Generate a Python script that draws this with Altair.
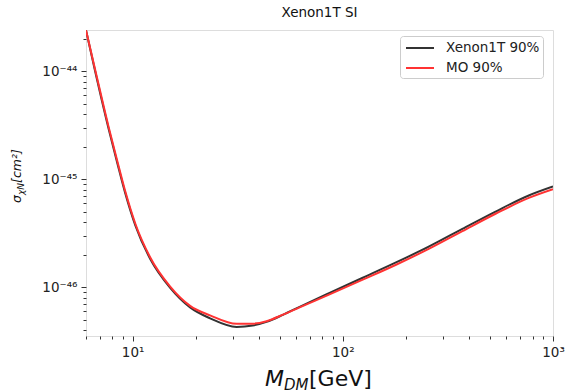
import altair as alt
import pandas as pd

# ---- data ----
mass_gev = [6.0, 6.62, 7.67, 8.44, 9.23, 10.3, 12.13, 15.09, 18.77, 23.35, 31.25, 37.3,
            43.35, 51.9, 62.3, 86.5, 124.4, 179.1, 257.6, 370.5, 533, 767, 1000]
xenon1t_90 = [2.4e-44, 1.015e-44, 2.98e-45, 1.43e-45, 7.38e-46, 3.73e-46, 1.82e-46, 9.84e-47,
              6.48e-47, 5.13e-47, 4.27e-47, 4.40e-47, 4.76e-47, 5.53e-47, 6.56e-47,
              8.83e-47, 1.22e-46, 1.69e-46, 2.38e-46, 3.46e-46, 5.01e-46, 7.06e-46, 8.55e-46]
mo_90 = [2.4e-44, 1.05e-44, 3.1e-45, 1.49e-45, 7.67e-46, 3.86e-46, 1.88e-46, 1.01e-46,
         6.70e-47, 5.47e-47, 4.56e-47, 4.58e-47, 4.83e-47, 5.55e-47, 6.49e-47,
         8.55e-47, 1.17e-46, 1.61e-46, 2.27e-46, 3.3e-46, 4.78e-46, 6.7e-46, 8.07e-46]
series_names = ["Xenon1T 90%", "MO 90%"]
series_colors = ["#333333", "#ff3333"]
chart_title = "Xenon1T SI"

x_major = [10, 100, 1000]
x_major_labels = ["10¹", "10²", "10³"]
x_minor = [6, 7, 8, 9, 20, 30, 40, 50, 60, 70, 80, 90, 200, 300, 400, 500, 600, 700, 800, 900]
y_major = [1e-46, 1e-45, 1e-44]
y_major_labels = ["10⁻⁴⁶", "10⁻⁴⁵", "10⁻⁴⁴"]
y_minor = [4e-47, 5e-47, 6e-47, 7e-47, 8e-47, 9e-47,
           2e-46, 3e-46, 4e-46, 5e-46, 6e-46, 7e-46, 8e-46, 9e-46,
           2e-45, 3e-45, 4e-45, 5e-45, 6e-45, 7e-45, 8e-45, 9e-45, 2e-44]

x_domain = [6, 1000]
y_domain = [3.52e-47, 2.41e-44]

W, H = 467, 306
FONT = "DejaVu Sans"
FS = 13.5

rows = []
for m, a in zip(mass_gev, xenon1t_90):
    rows.append({"mass": m, "sigma": a, "series": series_names[0]})
for m, b in zip(mass_gev, mo_90):
    rows.append({"mass": m, "sigma": b, "series": series_names[1]})
df = pd.DataFrame(rows)


def label_expr(vals, labels):
    expr = "''"
    for v, l in zip(reversed(vals), reversed(labels)):
        expr = f"datum.value == {v!r} ? '{l}' : ({expr})"
    return expr


def major_test(vals):
    return " || ".join(f"datum.value == {v!r}" for v in vals)


x_enc = alt.X(
    "mass:Q",
    scale=alt.Scale(type="log", domain=x_domain, nice=False),
    axis=alt.Axis(
        values=x_major + x_minor,
        labelExpr=label_expr(x_major, x_major_labels),
        title=None, grid=False, domain=False,
        tickColor="#333333", tickWidth=1,
        tickSize={"condition": {"test": major_test(x_major), "value": 5}, "value": 3},
        labelFont=FONT, labelFontSize=FS, labelColor="#222222", labelPadding=4,
        labelFlush=False, labelOverlap=False,
    ),
)
y_enc = alt.Y(
    "sigma:Q",
    scale=alt.Scale(type="log", domain=y_domain, nice=False),
    axis=alt.Axis(
        values=y_major + y_minor,
        labelExpr=label_expr(y_major, y_major_labels),
        title=None, grid=False, domain=False,
        tickColor="#333333", tickWidth=1,
        tickSize={"condition": {"test": major_test(y_major), "value": 5}, "value": 3},
        labelFont=FONT, labelFontSize=FS, labelColor="#222222", labelPadding=4,
        labelFlush=False, labelOverlap=False,
    ),
)
color_enc = alt.Color(
    "series:N",
    scale=alt.Scale(domain=series_names, range=series_colors),
    legend=alt.Legend(
        title=None, orient="none", legendX=314, legendY=6,
        symbolType="M-1.75,0H1.75", symbolSize=256, symbolStrokeWidth=2,
        symbolOffset=8,
        labelFont=FONT, labelFontSize=FS, labelColor="#222222",
        labelOffset=17, rowPadding=4, padding=3,
        strokeColor="#cccccc", fillColor="white", cornerRadius=3,
    ),
)

base = alt.Chart(df)
line_x = base.transform_filter(alt.datum.series == series_names[0]).mark_line(
    strokeWidth=2, interpolate="monotone", clip=True
).encode(x=x_enc, y=y_enc, color=color_enc)
line_mo = base.transform_filter(alt.datum.series == series_names[1]).mark_line(
    strokeWidth=2, interpolate="monotone", clip=True
).encode(x="mass:Q", y="sigma:Q", color="series:N")


def txt(s, x, y, size, style="normal", angle=0, align="left"):
    kw = dict(align=align, baseline="alphabetic", font=FONT, fontSize=size,
              fontStyle=style, color="#111111")
    if angle:
        kw["angle"] = angle
    return alt.Chart(pd.DataFrame({"t": [s]})).mark_text(**kw).encode(
        text="t:N", x=alt.value(x), y=alt.value(y)
    )


# chart title
tt = txt(chart_title, W / 2, -13, FS, align="center")
# x-axis title  M_DM[GeV]
xt1 = txt("M", 179, 356, 22, "italic")
xt2 = txt("DM", 198, 359.5, 15, "italic")
xt3 = txt("[GeV]", 223, 356, 22)
# y-axis title  sigma_{chi N}[cm^2]
yt1 = txt("σ", -65, 173, 12.5, "italic", 270)
yt2 = txt("χN", -62, 165, 9, "italic", 270)
yt3 = txt("[cm²]", -65, 153, 12.5, "italic", 270)

chart = alt.layer(line_x, line_mo, tt, xt1, xt2, xt3, yt1, yt2, yt3).properties(
    width=W, height=H,
    autosize=alt.AutoSizeParams(type="none"),
    padding={"left": 86, "top": 30, "right": 13, "bottom": 56},
).configure_view(stroke="#333333", strokeWidth=1).configure(background="white")

chart.save("out.html", embed_options={"renderer": "svg", "actions": False})
